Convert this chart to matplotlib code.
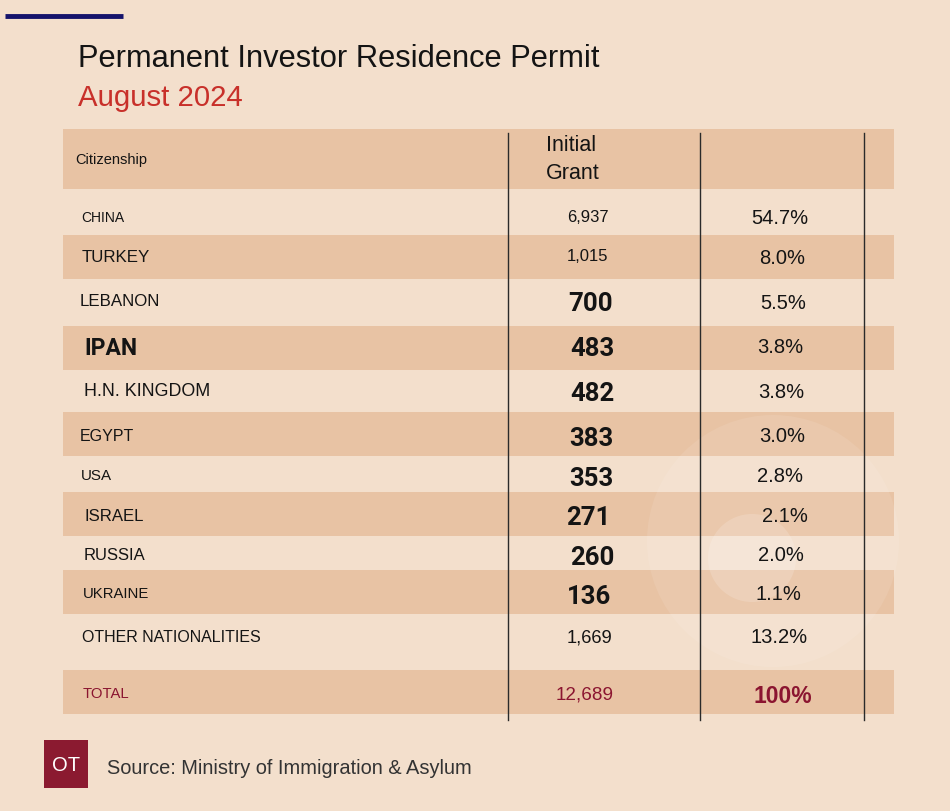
import matplotlib
matplotlib.use("Agg")
import matplotlib.pyplot as plt
from matplotlib.patches import Rectangle, Circle

# ---------------- data ----------------
title = "Permanent Investor Residence Permit"
subtitle = "August 2024"
header_col1 = "Citizenship"
header_col2 = "Initial\nGrant"
countries = ["CHINA", "TURKEY", "LEBANON", "IPAN", "H.N. KINGDOM", "EGYPT",
             "USA", "ISRAEL", "RUSSIA", "UKRAINE", "OTHER NATIONALITIES", "TOTAL"]
grants = [6937, 1015, 700, 483, 482, 383, 353, 271, 260, 136, 1669, 12689]
shares = [54.7, 8.0, 5.5, 3.8, 3.8, 3.0, 2.8, 2.1, 2.0, 1.1, 13.2, 100]
source = "Source: Ministry of Immigration & Asylum"
logo = "OT"

# ---------------- layout / style ----------------
W, H = 950, 811
BG = "#F3DFCC"
BAND = "#E8C3A4"
DARK = "#141414"
RED = "#C8302A"
MAROON = "#8B1530"

header_bounds = (129, 189)
row_bounds = [(189, 235), (235, 279), (279, 326), (326, 370), (370, 412), (412, 456),
              (456, 492), (492, 536), (536, 570), (570, 614), (614, 670), (670, 714)]
label_y = [217, 256, 300, 347, 390, 435, 475, 515, 554, 593, 636, 693]
num_y = [216, 255, 302, 347, 392, 437, 477, 516, 556, 595, 636, 693]
pct_y = [217, 257, 302, 346, 391, 435, 475, 515, 554, 593, 636, 695]
label_x = [81, 82, 80, 84, 84, 80, 81, 85, 84, 83, 82, 83]
label_size = [10, 12.2, 12.2, 16.5, 12.9, 11.5, 10.9, 12.1, 12, 10.7, 11.5, 10.7]
label_bold = [False, False, False, True, False, False, False, False, False, False, False, False]
num_x = [588, 587, 591, 592, 592, 591, 591, 588, 592, 589, 589, 585]
num_size = [12, 12, 18.5, 18.5, 18.5, 18.5, 18.5, 18.5, 18.5, 18.5, 13.2, 13.6]
num_bold = [False, False, True, True, True, True, True, True, True, True, False, False]
pct_x = [780, 782, 783, 780, 781, 782, 780, 785, 781, 778, 779, 783]
pct_size = 14.5

fig = plt.figure(figsize=(W / 100, H / 100), dpi=100)
fig.patch.set_facecolor(BG)
ax = fig.add_axes([0, 0, 1, 1])
ax.set_xlim(0, W)
ax.set_ylim(H, 0)
ax.axis("off")
ax.set_facecolor(BG)

SANS = "Liberation Sans"
COND = "Roboto"


def cap(size, ratio=0.716):
    return ratio * size * 100 / 72


def put(x, yc, s, size, color=DARK, ha="left", family=SANS, weight="normal", ratio=0.716, **kw):
    ax.text(x, yc + cap(size, ratio) / 2, s, fontsize=size, color=color, ha=ha,
            va="baseline", family=family, fontweight=weight, **kw)


# top accent line
ax.plot([5, 123], [16, 16], color="#15136B", lw=3.5, solid_capstyle="butt")

# titles
put(78, 56, title, 22.2)
put(78, 95, subtitle, 21.2, color=RED)

# bands
x0, x1 = 63, 894
ax.add_patch(Rectangle((x0, header_bounds[0]), x1 - x0, header_bounds[1] - header_bounds[0],
                       facecolor=BAND, edgecolor="none", zorder=1))
for i, (a, b) in enumerate(row_bounds):
    if i % 2 == 1:
        ax.add_patch(Rectangle((x0, a), x1 - x0, b - a, facecolor=BAND,
                               edgecolor="none", zorder=1))

# faint circular watermark
ax.add_patch(Circle((773, 541), 126, facecolor="white", alpha=0.09, edgecolor="none", zorder=2))
ax.add_patch(Circle((752, 558), 44, facecolor="white", alpha=0.16, edgecolor="none", zorder=2))

# vertical separators
for xv in [508, 700, 864]:
    ax.plot([xv, xv], [133, 720], color="#2a2a2a", lw=1.0, zorder=3)

# header text
put(75, 159, header_col1, 10.5)
ax.text(546, 143 + cap(15.5) / 2, "Initial", fontsize=15.5, color=DARK, family=SANS,
        va="baseline", ha="left")
ax.text(546, 171 + cap(15.5) / 2, "Grant", fontsize=15.5, color=DARK, family=SANS,
        va="baseline", ha="left")

# rows
n = len(countries)
for i in range(n):
    is_total = countries[i] == "TOTAL"
    col = MAROON if is_total else DARK
    if label_bold[i]:
        put(label_x[i], label_y[i], countries[i], label_size[i], color=col,
            family=COND, weight="bold", ratio=0.711, zorder=4)
    else:
        put(label_x[i], label_y[i], countries[i], label_size[i], color=col, zorder=4)

    num_s = f"{grants[i]:,}"
    if num_bold[i]:
        put(num_x[i], num_y[i], num_s, num_size[i], color=col, ha="center",
            family=COND, weight="bold", ratio=0.711, zorder=4)
    else:
        put(num_x[i], num_y[i], num_s, num_size[i], color=col, ha="center", zorder=4)

    if is_total:
        put(pct_x[i], pct_y[i], f"{shares[i]:.0f}%", 16.5, color=MAROON, ha="center",
            weight="bold", zorder=4)
    else:
        put(pct_x[i], pct_y[i], f"{shares[i]:.1f}%", pct_size, color=col, ha="center", zorder=4)

# footer logo and source
ax.add_patch(Rectangle((44, 740), 44, 48, facecolor="#8B1A30", edgecolor="none", zorder=4))
put(66, 764, logo, 14.5, color="white", ha="center", zorder=5)
put(107, 767, source, 14.4, color="#333333")

fig.savefig("out.png", dpi=100, facecolor=BG)
